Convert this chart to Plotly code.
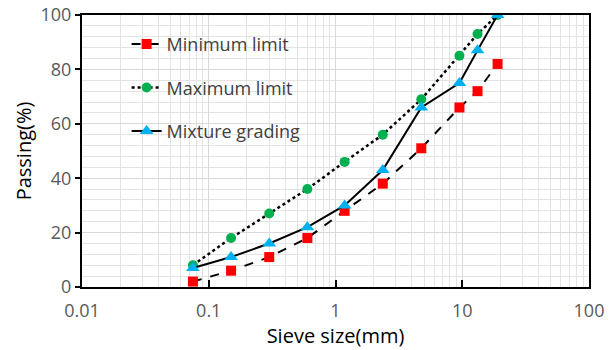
import plotly.graph_objects as go

sieve = [0.075, 0.15, 0.3, 0.6, 1.18, 2.36, 4.75, 9.5, 13.2, 19]
min_limit = [2, 6, 11, 18, 28, 38, 51, 66, 72, 82]
max_limit = [8, 18, 27, 36, 46, 56, 69, 85, 93, 100]
mixture = [7, 11, 16, 22, 30, 43, 66, 75, 87, 100]
x_ticks = [0.01, 0.1, 1, 10, 100]
x_tick_labels = ["0.01", "0.1", "1", "10", "100"]

minor_x = [m * d for d in [0.01, 0.1, 1, 10] for m in range(2, 10)]

fig = go.Figure()
fig.add_trace(go.Scatter(x=sieve, y=min_limit, name="Minimum limit", mode="lines+markers",
                         line=dict(color="black", width=2, dash="dash"),
                         marker=dict(symbol="square", color="#FF0000", size=10), legendgroup="a"))
fig.add_trace(go.Scatter(x=sieve, y=max_limit, name="Maximum limit", mode="lines+markers",
                         line=dict(color="black", width=2.5, dash="dot"),
                         marker=dict(symbol="circle", color="#00B050", size=10), legendgroup="b"))
fig.add_trace(go.Scatter(x=sieve, y=mixture, name="Mixture grading", mode="lines+markers",
                         line=dict(color="black", width=2),
                         marker=dict(symbol="triangle-up", color="#00B0F0", size=12), legendgroup="c"))

tickfont = dict(family="Open Sans, sans-serif", size=18, color="#595959")
fig.update_layout(
    width=613, height=350,
    margin=dict(l=82, r=24, t=15, b=63),
    paper_bgcolor="white", plot_bgcolor="white",
    font=dict(family="Open Sans, sans-serif"),
    showlegend=True,
    legend=dict(x=0.088, y=0.96, xanchor="left", yanchor="top",
                font=dict(size=18, color="#404040"), tracegroupgap=17,
                bgcolor="rgba(255,255,255,0)"),
    xaxis=dict(type="log", range=[-2, 2], tickvals=x_ticks, ticktext=x_tick_labels,
               ticks="inside", ticklen=7, tickcolor="black", tickwidth=2,
               ticklabelstandoff=6, automargin=False,
               showline=True, linecolor="black", linewidth=2, mirror=True,
               showgrid=True, gridcolor="#D9D9D9", gridwidth=1,
               minor=dict(tickvals=minor_x, showgrid=True, gridcolor="#E3E3E3", ticks=""),
               tickfont=tickfont, zeroline=False,
               title=dict(text="Sieve size(mm)", font=dict(size=20, color="black"), standoff=6)),
    yaxis=dict(range=[0, 100], dtick=20, ticks="outside", ticklen=5, tickcolor="black", tickwidth=2,
               automargin=False,
               showline=True, linecolor="black", linewidth=2, mirror=True,
               showgrid=True, gridcolor="#D9D9D9", gridwidth=1,
               minor=dict(dtick=4, showgrid=True, gridcolor="#E3E3E3"),
               tickfont=tickfont, zeroline=False,
               title=dict(text="Passing(%)", font=dict(size=20, color="black"), standoff=4)),
)
fig.write_html("out.html")
